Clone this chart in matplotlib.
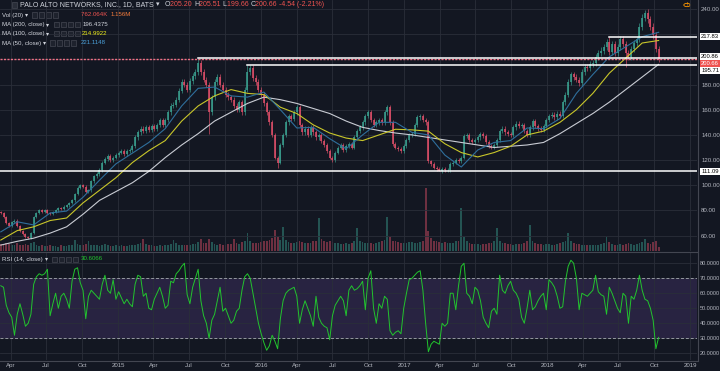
import numpy as np
import pandas as pd
import matplotlib
matplotlib.use('Agg')
import matplotlib.pyplot as plt
import matplotlib.dates as mdates
from matplotlib.patches import Rectangle, Circle
from matplotlib.lines import Line2D
from matplotlib.transforms import blended_transform_factory

plt.rcParams['font.family'] = ['Liberation Sans', 'DejaVu Sans']

###############################################################################
######################## data #################################################
###############################################################################

# weekly bars, PANW 1D chart read at roughly one value per week
first_date = '2014-03-07'
first_open = 79.0
closes = [
    78, 75, 70, 68, 71, 72, 68, 64, 61, 59,
    58, 62, 75, 78, 80, 79, 80, 78, 77, 79,
    80, 82, 81, 83, 84, 86, 88, 93, 98, 100,
    99, 95, 96, 103, 107, 109, 112, 118, 121, 123,
    120, 122, 124, 126, 127, 125, 127, 128, 131, 138,
    142, 145, 143, 146, 144, 147, 145, 148, 152, 148,
    152, 158, 163, 164, 168, 175, 182, 180, 176, 183,
    187, 190, 197, 190, 184, 180, 158, 170, 182, 186,
    180, 176, 172, 170, 168, 163, 160, 166, 158, 176,
    190, 193, 185, 182, 176, 172, 165, 158, 150, 140,
    122, 118, 132, 140, 150, 155, 153, 158, 162, 148,
    142, 145, 140, 146, 142, 138, 140, 135, 132, 127,
    122, 120, 126, 130, 132, 128, 131, 133, 130, 138,
    143, 146, 150, 155, 158, 152, 148, 150, 152, 150,
    158, 162, 150, 133, 130, 129, 127, 131, 136, 140,
    141, 148, 154, 155, 152, 150, 119, 117, 114, 113,
    111, 113, 112, 112, 117, 118, 120, 119, 122, 139,
    140, 136, 134, 136, 138, 141, 139, 134, 131, 130,
    132, 136, 143, 145, 142, 141, 140, 146, 149, 147,
    148, 143, 140, 146, 151, 147, 145, 144, 147, 152,
    155, 156, 154, 157, 155, 166, 172, 182, 188, 186,
    184, 181, 190, 194, 193, 196, 197, 202, 205, 207,
    210, 214, 206, 212, 205, 210, 216, 212, 205, 202,
    208, 213, 216, 226, 233, 237, 232, 226, 219, 208,
    200.66]

# notable wicks (bar index -> price)
high_marks = {72: 200.86, 90: 195.71, 222: 217.83, 235: 239.5}
low_marks = {76: 141, 101: 114, 160: 111.09, 228: 194}

# volume in millions
volume = [
    1.8, 1.6, 2.0, 1.7, 1.5, 1.6, 1.9, 1.4, 1.5, 1.7,
    1.6, 1.9, 2.2, 1.5, 1.3, 1.4, 1.2, 1.3, 1.5, 1.2,
    1.3, 1.1, 1.4, 1.2, 1.3, 1.6, 1.5, 2.8, 1.8, 1.4,
    1.5, 1.7, 2.5, 1.6, 1.4, 1.5, 1.3, 1.6, 1.7, 1.4,
    1.3, 1.2, 1.4, 1.3, 1.5, 1.2, 1.3, 1.4, 1.6, 1.5,
    1.7, 1.9, 3.0, 1.8, 1.5, 1.4, 1.3, 1.2, 1.4, 1.3,
    1.5, 1.6, 1.8, 2.8, 1.9, 1.6, 1.5, 1.4, 1.6, 1.5,
    1.7, 1.8, 2.2, 3.0, 2.0, 1.9, 3.0, 2.2, 1.8, 1.6,
    1.7, 1.5, 1.6, 1.8, 1.7, 3.0, 2.0, 1.8, 2.2, 2.6,
    4.5, 2.4, 1.9, 2.0, 2.1, 2.3, 2.6, 2.4, 2.8, 3.2,
    5.3, 3.6, 2.7, 6.0, 2.8, 2.2, 2.0, 2.1, 2.3, 2.5,
    2.2, 2.0, 1.9, 2.1, 2.4, 2.6, 8.3, 3.0, 2.4, 2.2,
    2.5, 2.3, 2.0, 1.9, 1.8, 1.7, 1.9, 1.8, 2.0, 2.4,
    5.8, 2.6, 2.2, 2.0, 1.9, 2.1, 1.8, 2.0, 2.2, 2.4,
    2.8, 8.5, 3.4, 2.6, 2.4, 2.2, 2.0, 2.1, 2.0, 2.2,
    2.3, 2.1, 2.0, 2.2, 2.6, 15.8, 5.0, 3.2, 2.6, 2.4,
    2.3, 2.1, 2.2, 2.0, 1.9, 2.1, 2.4, 2.6, 10.8, 3.4,
    2.4, 2.0, 1.8, 1.7, 1.8, 1.6, 1.7, 1.8, 1.9, 2.0,
    2.6, 5.8, 2.4, 2.0, 1.9, 1.8, 1.7, 1.6, 1.8, 1.7,
    1.8, 2.0, 2.4, 6.5, 2.6, 2.0, 1.8, 1.7, 1.6, 1.8,
    1.7, 1.6, 1.5, 1.7, 1.9, 2.2, 2.4, 4.5, 2.6, 2.0,
    1.8, 1.7, 1.6, 1.5, 1.6, 1.5, 1.4, 1.6, 1.5, 1.7,
    2.0, 3.5, 2.2, 1.8, 1.6, 1.5, 1.7, 1.6, 1.8, 1.9,
    1.7, 1.6, 1.8, 2.0, 2.2, 3.0, 2.0, 1.8, 2.2, 2.4,
    0.9]

# moving averages, one reading every 6 bars
ma_step = 6
ma200 = [52.5, 55.5, 58, 62, 67, 77, 88, 95, 102, 111,
         122, 132, 141, 151, 158, 165, 170, 168, 165, 161,
         157, 151, 146, 143.5, 141.5, 140, 138, 136, 134, 132,
         130, 131, 132, 134, 141, 149, 157, 166, 176, 186, 196]
ma100 = [56.5, 64, 67, 72, 74, 86, 96, 106, 118, 127.5,
         135.5, 151, 163, 171, 176, 173, 172, 162, 157, 148,
         141.5, 137.5, 135.5, 140, 144.5, 144, 143, 133, 126, 122.5,
         126, 131, 140, 143, 150, 160, 173, 189, 201, 213, 215]
ma50 = [63, 71, 68.5, 78, 79.5, 90.5, 104, 117, 125.5, 134,
        145, 163, 177, 178, 171, 170, 174, 160, 145.5, 146,
        137, 129, 140, 150, 150, 142, 140, 124, 114.5, 128,
        134, 135.5, 145.5, 145, 153, 173, 188, 202, 210, 218, 221.5]

# RSI(14)
rsi = [
    65, 64, 52, 47, 44, 32, 46, 53, 46, 38,
    40, 46, 66, 71, 73, 72, 73, 76, 45, 53,
    60, 50, 58, 60, 56, 50, 68, 76, 77, 67,
    62, 43, 58, 62, 60, 58, 56, 66, 72, 62,
    60, 69, 56, 61, 57, 53, 56, 53, 51, 66,
    72, 71, 58, 60, 50, 49, 56, 60, 64, 58,
    50, 52, 68, 67, 73, 75, 78, 80, 59, 53,
    64, 70, 76, 55, 45, 40, 30, 42, 46, 55,
    64, 48, 50, 45, 40, 42, 48, 50, 62, 71,
    73, 70, 60, 50, 40, 33, 27, 22, 25, 32,
    28, 23, 43, 55, 60, 62, 63, 64, 58, 40,
    49, 55, 50, 45, 38, 58, 44, 40, 38, 37,
    29, 45, 52, 55, 58, 55, 45, 62, 65, 62,
    63, 65, 68, 49, 70, 75, 50, 40, 53, 50,
    58, 56, 35, 32, 34, 35, 33, 50, 60, 69,
    70, 72, 74, 75, 62, 40, 21, 26, 28, 27,
    26, 40, 38, 40, 60, 60, 49, 65, 78, 80,
    60, 58, 53, 64, 62, 55, 44, 40, 37, 48,
    50, 46, 72, 62, 60, 65, 68, 62, 60, 56,
    44, 40, 50, 62, 49, 51, 55, 58, 60, 49,
    69, 67, 64, 58, 50, 51, 68, 78, 82, 80,
    70, 49, 60, 59, 58, 60, 62, 72, 61, 59,
    58, 46, 64, 60, 55, 50, 47, 60, 58, 40,
    58, 56, 62, 72, 62, 56, 55, 50, 42, 23,
    30.6066]

# drawn horizontal levels: (price, first bar index or None for full width)
levels = [(217.83, 222), (200.86, 72), (195.71, 90), (111.09, None)]
last_price = 200.66

###############################################################################
############################## styling ########################################
###############################################################################

W, H = 720, 371
bg = '#131722'
grid_c = '#2a2e39'
txt_c = '#b2b5be'
up_c = '#3a9f8f'
dn_c = '#de4f69'


def fx(px):
    return px / W


def fy(py):
    return 1 - py / H


fig = plt.figure(figsize=(W / 100, H / 100), dpi=100, facecolor=bg)
ax = fig.add_axes([0, fy(251), fx(697), 251 / H])
axr = fig.add_axes([0, fy(360), fx(697), 108 / H], sharex=ax)
axv = ax.twinx()

for a in (ax, axr, axv):
    a.set_facecolor(bg)
    for s in a.spines.values():
        s.set_visible(False)
ax.set_zorder(axv.get_zorder() + 1)
ax.patch.set_visible(False)

dates = pd.date_range(first_date, periods=len(closes), freq='W-FRI')
dnum = mdates.date2num(dates.to_pydatetime())
closes = np.array(closes, dtype=float)
opens = np.concatenate([[first_open], closes[:-1]])
top = np.maximum(opens, closes)
bot = np.minimum(opens, closes)
highs = top * 1.012
lows = bot * 0.988
for k, v in high_marks.items():
    highs[k] = v
for k, v in low_marks.items():
    lows[k] = v
cols = np.where(closes >= opens, up_c, dn_c)

# candles
ax.vlines(dnum, lows, highs, colors=cols, lw=0.45, zorder=3)
ax.vlines(dnum, bot, np.maximum(top, bot + 0.5), colors=cols, lw=1.15, zorder=3)

# moving averages
ma_x = dnum[::ma_step]
ax.plot(ma_x, ma200, color='#c9ccd4', lw=0.8, zorder=4)
ax.plot(ma_x, ma100, color='#c8c62a', lw=0.8, zorder=4)
ax.plot(ma_x, ma50, color='#2f6f9c', lw=0.8, zorder=4)

# volume
axv.bar(dnum, volume, width=4.5, color=cols, alpha=0.45, lw=0)
axv.set_ylim(0, 63)
axv.set_yticks([])

# levels
ax.axhline(last_price, color='#f07085', lw=1.0, ls=(0, (1.5, 1)), zorder=5)
for price, start in levels:
    x0 = dnum[0] - 30 if start is None else dnum[start]
    ax.plot([x0, dnum[-1] + 400], [price, price], color='white', lw=1.1, zorder=6)

ax.set_ylim(47.8, 247.15)
ax.set_xlim(mdates.date2num(pd.Timestamp('2014-03-05')),
            mdates.date2num(pd.Timestamp('2019-01-18')))
ax.yaxis.tick_right()
ax.set_yticks(np.arange(60, 241, 20))
ax.set_yticklabels(['' if v in (200, 220) else '%.2f' % v for v in np.arange(60, 241, 20)])
ax.tick_params(axis='y', length=0, pad=3, labelsize=4.4, colors=txt_c)
ax.tick_params(axis='x', length=0, labelbottom=False)
ax.grid(True, color=grid_c, lw=0.6)

# level labels on the price scale
tr = blended_transform_factory(ax.transAxes, ax.transData)
tags = [('217.83', 218.3, 'white', 'black'), ('200.86', 202.0, 'white', 'black'),
        ('200.66', 196.6, '#ef5350', 'white'), ('195.71', 191.1, 'white', 'black'),
        ('111.09', 111.09, 'white', 'black')]
for s, yv, fc, tc in tags:
    ax.text(1.006, yv, s, transform=tr, ha='left', va='center', fontsize=4.2,
            color=tc, clip_on=False, zorder=10,
            bbox=dict(boxstyle='square,pad=0.2', fc=fc, ec='none'))

# RSI pane
axr.axhspan(30, 70, color='#7e57c2', alpha=0.2, lw=0)
for v in (30, 70):
    axr.axhline(v, color='#9598a1', lw=0.7, ls=(0, (3, 2)))
axr.plot(dnum, rsi, color='#22c42e', lw=0.7, zorder=4)
axr.set_ylim(15.5, 87.5)
axr.yaxis.tick_right()
axr.set_yticks(np.arange(20, 81, 10))
axr.set_yticklabels(['%.4f' % v for v in np.arange(20, 81, 10)])
axr.tick_params(axis='y', length=0, pad=2, labelsize=4.0, colors=txt_c)
axr.grid(True, color=grid_c, lw=0.6)
axr.xaxis.set_major_locator(mdates.MonthLocator(bymonth=[1, 4, 7, 10]))
axr.xaxis.set_major_formatter(plt.FuncFormatter(
    lambda v, p: mdates.num2date(v).strftime('%Y') if mdates.num2date(v).month == 1
    else mdates.num2date(v).strftime('%b')))
axr.tick_params(axis='x', length=0, pad=2.5, labelsize=4.4, colors=txt_c)

# pane borders
for y in (251.5, 360.5):
    fig.add_artist(Line2D([0, fx(697)], [fy(y), fy(y)], transform=fig.transFigure,
                          color='#434651', lw=0.8))
fig.add_artist(Line2D([fx(697.5), fx(697.5)], [fy(360.5), 1], transform=fig.transFigure,
                      color='#434651', lw=0.8))

###############################################################################
############################ legend rows ######################################
###############################################################################

renderer = fig.canvas.get_renderer()


def put(parts, x, y, size):
    for s, c in parts:
        t = fig.text(fx(x), fy(y), s, color=c, fontsize=size, ha='left', va='center')
        x += t.get_window_extent(renderer).width
    return x


def boxes(x, y, n=4):
    for k in range(n):
        fig.add_artist(Rectangle((fx(x + k * 7), fy(y + 2.5)), fx(5), 5 / H,
                                 transform=fig.transFigure, fc='#1e222d', ec='#50535e', lw=0.4))


light = '#d1d4dc'
red = '#ef5350'
fig.add_artist(Rectangle((fx(12), fy(7.5)), fx(5), 5 / H, transform=fig.transFigure,
                         fc='#2a2e39', ec='#50535e', lw=0.4))
put([('PALO ALTO NETWORKS, INC., 1D, BATS ', light), ('▾', light)], 20, 5, 5.0)
put([('O', light), ('205.20 ', red), ('H', light), ('205.51 ', red), ('L', light),
     ('199.66 ', red), ('C', light), ('200.66 ', red), ('-4.54 (-2.21%)', red)], 165, 5, 5.0)

x = put([('Vol (20) ', light), ('▾', light)], 2, 15, 4.4)
boxes(x + 4, 15)
put([('762.064K  ', red), ('1.156M', '#f57c3c')], 81, 15, 4.4)
x = put([('MA (200, close) ', light), ('▾', light)], 2, 24.5, 4.4)
boxes(x + 4, 24.5)
put([('196.4375', light)], 83, 24.5, 4.4)
x = put([('MA (100, close) ', light), ('▾', light)], 2, 33.5, 4.4)
boxes(x + 4, 33.5)
put([('214.9922', '#f0ee1a')], 82, 33.5, 4.4)
x = put([('MA (50, close) ', light), ('▾', light)], 2, 43, 4.4)
boxes(x + 4, 43)
put([('221.1148', '#4a9fd8')], 81, 43, 4.4)

x = put([('RSI (14, close) ', light), ('▾', light)], 2, 259, 4.4)
boxes(x + 4, 259)
put([('30.6066', '#22c42e')], 81, 259, 4.4)

# alert icon
fig.add_artist(Circle((fx(687), fy(5)), 3.2 / W, transform=fig.transFigure,
                      fc='none', ec='#ff9800', lw=0.6))
fig.text(fx(687), fy(5), '!', color='#ff9800', fontsize=4, ha='center', va='center')

plt.savefig('out.png', dpi=100, facecolor=bg)
